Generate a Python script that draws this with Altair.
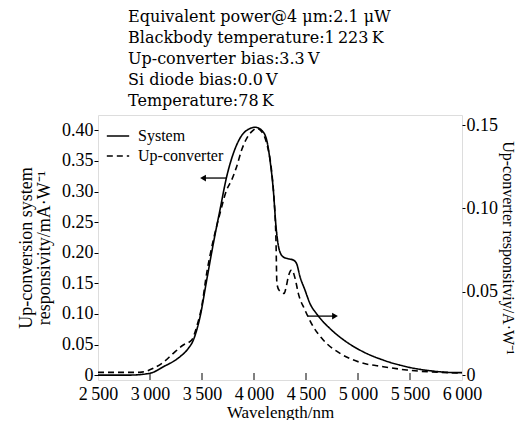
import altair as alt
import pandas as pd

# ---- data ----
sys_x = [2500, 2800, 3000, 3128, 3288, 3368, 3416, 3481, 3545, 3609, 3673, 3737, 3801, 3865,
         3962, 4010, 4074, 4122, 4154, 4186, 4212, 4244, 4282, 4330, 4378, 4410, 4442, 4490,
         4538, 4603, 4666, 4731, 4891, 5051, 5243, 5468, 5724, 5949, 6000]
sys_y = [0.000, 0.000, 0.003, 0.0136, 0.030, 0.0435, 0.057, 0.095, 0.155, 0.215, 0.270, 0.324,
         0.362, 0.387, 0.403, 0.405, 0.400, 0.384, 0.351, 0.302, 0.242, 0.204, 0.193, 0.190,
         0.188, 0.182, 0.161, 0.139, 0.117, 0.100, 0.087, 0.076, 0.054, 0.038, 0.0245, 0.0136,
         0.0065, 0.004, 0.004]

up_x = [2500, 2900, 3032, 3128, 3224, 3320, 3401, 3449, 3497, 3545, 3609, 3673, 3737, 3785,
        3833, 3881, 3930, 3978, 4026, 4074, 4122, 4170, 4190, 4212, 4220, 4240, 4290, 4310,
        4330, 4362, 4395, 4426, 4490, 4570, 4666, 4827, 5019, 5243, 5468, 5788, 6000]
up_y = [0.0016, 0.0016, 0.004, 0.0076, 0.013, 0.018, 0.021, 0.029, 0.041, 0.061, 0.081, 0.097,
        0.111, 0.117, 0.125, 0.135, 0.142, 0.146, 0.148, 0.146, 0.139, 0.122, 0.108, 0.079,
        0.055, 0.051, 0.049, 0.053, 0.059, 0.063, 0.058, 0.049, 0.039, 0.029, 0.021, 0.013,
        0.0076, 0.005, 0.003, 0.0016, 0.0012]

series_names = ["System", "Up-converter"]
x_ticks = [2500, 3000, 3500, 4000, 4500, 5000, 5500, 6000]
left_ticks = [0, 0.05, 0.10, 0.15, 0.20, 0.25, 0.30, 0.35, 0.40]
right_ticks = [0, 0.05, 0.10, 0.15]

# arrows: (x_start, x_end, y in left-axis units, head shape)
arrow_x1 = [3510, 4519]
arrow_x2 = [3740, 4779]
arrow_y = [0.322, 0.0964]
arrow_head_x = [3510, 4779]
arrow_head_shape = ["triangle-left", "triangle-right"]

header_lines = [
    "Equivalent power@4 \u03bcm:2.1 \u03bcW",
    "Blackbody temperature:1\u2009223\u2009K",
    "Up-converter bias:3.3\u2009V",
    "Si diode bias:0.0\u2009V",
    "Temperature:78\u2009K",
]

FONT = "'Liberation Serif', 'Times New Roman', serif"
HFONT = "'DejaVu Serif', serif"

sys_df = pd.DataFrame({"x": sys_x, "y": sys_y, "series": series_names[0]})
up_df = pd.DataFrame({"x": up_x, "y": up_y, "series": series_names[1]})
arrow_df = pd.DataFrame({"x1": arrow_x1, "x2": arrow_x2, "y": arrow_y,
                         "hx": arrow_head_x, "shape": arrow_head_shape})
tick_df = pd.DataFrame({"t": x_ticks[1:-1]})

X = alt.X("x:Q", scale=alt.Scale(domain=[2500, 6000], nice=False, zero=False),
          axis=alt.Axis(title="Wavelength/nm", values=x_ticks,
                        labelExpr="replace(format(datum.value, 'd'), /^(\\d)/, '$1\u2009')",
                        ticks=False, domain=False, grid=False,
                        labelFont=FONT, labelFontSize=18, labelColor="black", labelPadding=5,
                        labelFlush=False, labelOverlap=False,
                        titleFont=FONT, titleFontSize=17, titleFontWeight="normal",
                        titleColor="black", titlePadding=1))

Y_left = alt.Y("y:Q", scale=alt.Scale(domain=[-0.008, 0.425], nice=False, zero=False),
               axis=alt.Axis(title=["Up-conversion system", "responsivity/mA\u00b7W\u207b\u00b9"],
                             orient="left", values=left_ticks,
                             labelExpr="datum.value == 0 ? '0' : format(datum.value, '.2f')",
                             domain=False, grid=False, tickSize=4, tickColor="black",
                             labelFont=FONT, labelFontSize=18, labelColor="black", labelPadding=1,
                             labelFlush=False, labelOverlap=False,
                             titleFont=FONT, titleFontSize=18, titleFontWeight="normal",
                             titleColor="black", titlePadding=8, titleLineHeight=18))

Y_right = alt.Y("y:Q", scale=alt.Scale(domain=[-0.003, 0.156], nice=False, zero=False),
                axis=alt.Axis(title="Up-converter responsitviy/A\u00b7W\u207b\u00b9",
                              orient="right", values=right_ticks,
                              labelExpr="datum.value == 0 ? '0' : format(datum.value, '.2f')",
                              domain=False, grid=False, tickSize=3, tickColor="black",
                              labelFont=FONT, labelFontSize=18, labelColor="black", labelPadding=1,
                              labelFlush=False, labelOverlap=False,
                              titleFont=FONT, titleFontSize=16, titleFontWeight="normal",
                              titleColor="black", titlePadding=2))

dash = alt.StrokeDash("series:N",
                      scale=alt.Scale(domain=series_names, range=[[1, 0], [6, 4]]),
                      legend=alt.Legend(title=None, orient="none", legendX=8, legendY=12,
                                        symbolType="stroke", symbolSize=500,
                                        symbolStrokeWidth=1.5, symbolStrokeColor="black",
                                        labelFont=FONT, labelFontSize=16, labelColor="black",
                                        labelOffset=8, clipHeight=18, rowPadding=2))

sys_line = alt.Chart(sys_df).mark_line(color="black", strokeWidth=1.6,
                                       interpolate="monotone").encode(x=X, y=Y_left, strokeDash=dash)

arrow_rules = alt.Chart(arrow_df).mark_rule(color="black", strokeWidth=1.3).encode(
    x=alt.X("x1:Q"), x2="x2:Q", y=Y_left)
arrow_heads = alt.Chart(arrow_df).mark_point(filled=True, color="black", size=45,
                                             opacity=1).encode(
    x=alt.X("hx:Q"), y=Y_left, shape=alt.Shape("shape:N", scale=None))

x_inner_ticks = alt.Chart(tick_df).mark_rule(color="black", strokeWidth=1).encode(
    x=alt.X("t:Q"), y=alt.value(265), y2=alt.value(258))

left_layer = alt.layer(sys_line, arrow_rules, arrow_heads, x_inner_ticks)

up_line = alt.Chart(up_df).mark_line(color="black", strokeWidth=1.6,
                                     interpolate="monotone").encode(x=X, y=Y_right, strokeDash=dash)

chart = alt.layer(left_layer, up_line).resolve_scale(y="independent").properties(
    width=364, height=265,
    autosize=alt.AutoSizeParams(type="none"),
    padding={"left": 90, "top": 107, "right": 54, "bottom": 40},
    title=alt.TitleParams(text=header_lines, anchor="start", frame="group", dx=30,
                          font=HFONT, fontSize=16, fontWeight="normal",
                          color="black", lineHeight=21, offset=6),
).configure_view(stroke="black", strokeWidth=1.5).configure(background="white")

chart.save("out.html", embed_options={"renderer": "svg", "actions": False})
